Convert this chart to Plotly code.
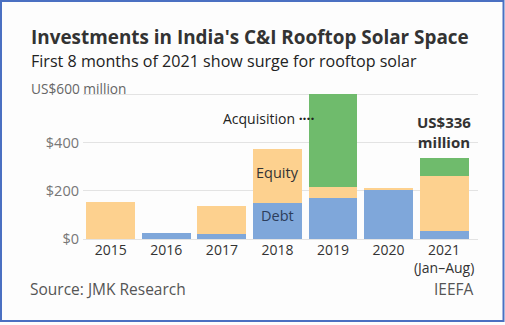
import plotly.graph_objects as go

# Investment in India's C&I rooftop solar, US$ million
years = ["2015", "2016", "2017", "2018", "2019", "2020", "2021"]
year_labels = ["2015", "2016", "2017", "2018", "2019", "2020", "2021<br>(Jan–Aug)"]
debt = [0, 23, 22, 151, 172, 207, 34]
equity = [152, 0, 116, 221, 42, 4, 228]
acquisition = [0, 0, 0, 0, 388, 0, 74]
total_2021 = 336

y_ticks = [0, 200, 400, 600]
y_tick_text = ["$0", "$200", "$400", ""]

W, H = 505, 325
ML, MR, MT, MB = 83, 27, 92, 86
PW, PH = W - ML - MR, H - MT - MB


def px_x(x):
    return (x - ML) / PW


def px_y(y):
    return (H - MB - y) / PH


DEBT_C = "#7fa7da"
EQUITY_C = "#fdd18f"
ACQ_C = "#6fbb6c"
TEXT = "#333333"
GREY = "#666666"
FONT = "Open Sans"

i2018 = years.index("2018")
i2019 = years.index("2019")
i2021 = years.index("2021")

fig = go.Figure()
fig.add_bar(x=years, y=debt, name="Debt", marker=dict(color=DEBT_C, line_width=0))
fig.add_bar(x=years, y=equity, name="Equity", marker=dict(color=EQUITY_C, line_width=0))
fig.add_bar(x=years, y=acquisition, name="Acquisition", marker=dict(color=ACQ_C, line_width=0))

ann = []
ann.append(dict(text="<b>Investments in India's C&I Rooftop Solar Space</b>",
                xref="paper", yref="paper", x=px_x(29), y=px_y(37),
                xanchor="left", yanchor="middle", showarrow=False,
                font=dict(size=18.9, color=TEXT, family=FONT)))
ann.append(dict(text="First 8 months of 2021 show surge for rooftop solar",
                xref="paper", yref="paper", x=px_x(29), y=px_y(61),
                xanchor="left", yanchor="middle", showarrow=False,
                font=dict(size=16.1, color="#222222", family=FONT)))
ann.append(dict(text="US$600 million",
                xref="paper", yref="paper", x=px_x(29), y=px_y(88),
                xanchor="left", yanchor="middle", showarrow=False,
                font=dict(size=13.7, color=GREY, family=FONT)))
ann.append(dict(text="Equity", x=i2018, y=277, showarrow=False,
                font=dict(size=14.5, color=TEXT, family=FONT)))
ann.append(dict(text="Debt", x=i2018, y=97, showarrow=False,
                font=dict(size=14.5, color="#2c3d5c", family=FONT)))
ann.append(dict(text="Acquisition <b>····</b>", x=i2019 - 0.28, y=498, xanchor="right",
                showarrow=False, font=dict(size=14, color="#222222", family=FONT)))
ann.append(dict(text=f"<b>US${total_2021}<br>million</b>", x=i2021,
                y=debt[i2021] + equity[i2021] + acquisition[i2021],
                yanchor="bottom", yshift=4, showarrow=False,
                font=dict(size=15, color=TEXT, family=FONT)))
ann.append(dict(text="Source: JMK Research", xref="paper", yref="paper",
                x=px_x(28), y=px_y(288.5), xanchor="left", yanchor="middle",
                showarrow=False, font=dict(size=15.5, color="#555555", family=FONT)))
ann.append(dict(text="IEEFA", xref="paper", yref="paper",
                x=px_x(476), y=px_y(288.5), xanchor="right", yanchor="middle",
                showarrow=False, font=dict(size=15.5, color="#555555", family=FONT)))

fig.update_layout(
    width=W, height=H,
    margin=dict(l=ML, r=MR, t=MT, b=MB),
    barmode="stack", bargap=0.12,
    paper_bgcolor="#fdfdfd", plot_bgcolor="#fdfdfd",
    showlegend=False,
    font=dict(family=FONT, color=TEXT),
    annotations=ann,
    shapes=[dict(type="rect", xref="paper", yref="paper",
                 x0=px_x(1), x1=px_x(503.5), y0=px_y(1), y1=px_y(321),
                 line=dict(color="#4a70c2", width=2), layer="above")],
    xaxis=dict(type="category", categoryorder="array", categoryarray=years,
               tickvals=years, ticktext=year_labels, range=[-0.5, 6.61],
               showgrid=False, showline=False, ticks="", ticklabelstandoff=1,
               tickfont=dict(size=14, color=TEXT, family=FONT)),
    yaxis=dict(range=[0, 610], tickvals=y_ticks, ticktext=y_tick_text,
               showgrid=True, gridcolor="#e3e3e3", gridwidth=1,
               zeroline=True, zerolinecolor="#e3e3e3", zerolinewidth=1,
               ticks="", ticklabelstandoff=3,
               tickfont=dict(size=14.5, color="#777777", family=FONT)),
)

fig.write_html("out.html")
